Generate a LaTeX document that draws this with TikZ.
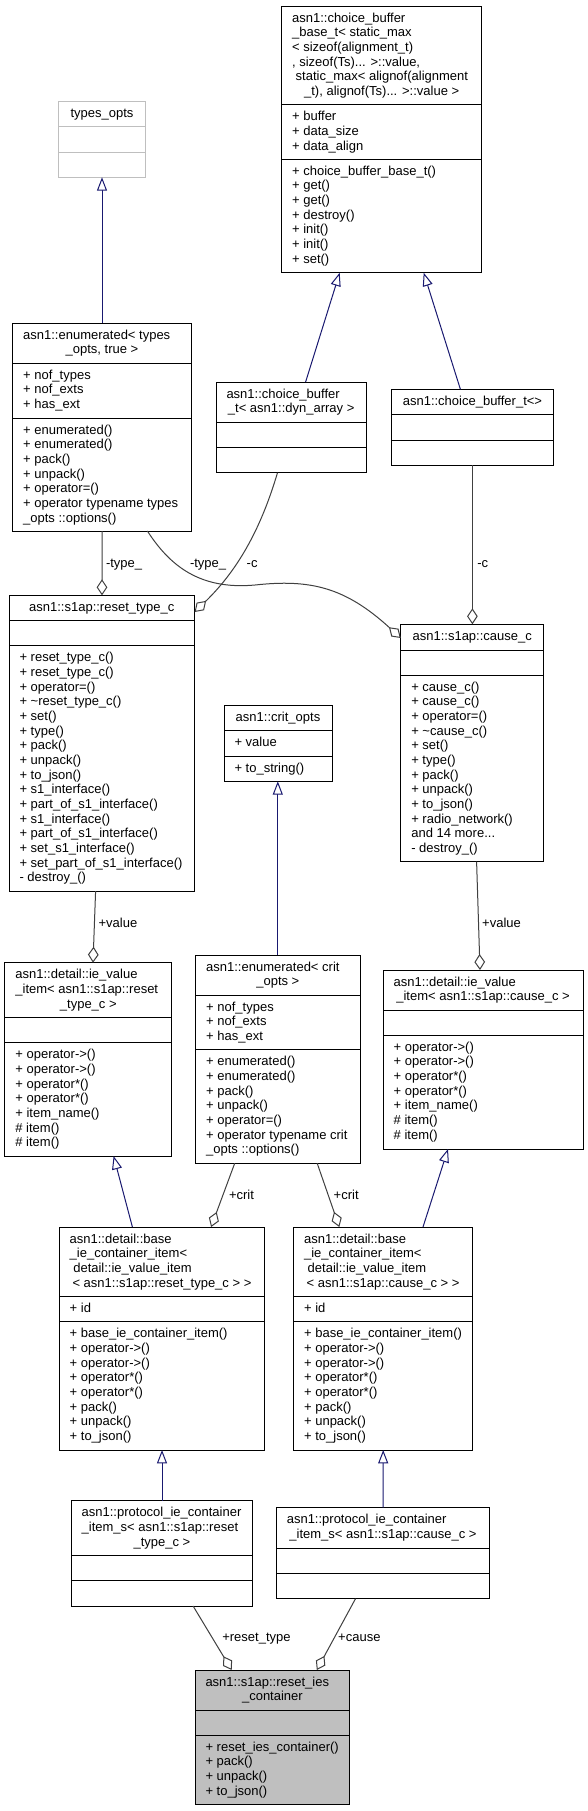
\documentclass[tikz,border=0pt]{standalone}
\usepackage{fontspec}
\setmainfont{Liberation Sans}
\usetikzlibrary{arrows.meta,calc,fit}
\definecolor{inhcol}{HTML}{191970}
\definecolor{compcol}{HTML}{404040}
\definecolor{grayfill}{HTML}{BFBFBF}
\definecolor{grayborder}{HTML}{BFBFBF}
\newcommand\fstr{\rule{0pt}{9pt}}
\newcommand\umlbox[8][]{%
  \node[cls,#1,fit={(#3,#4) (#5,#6)}] (#2) {};
  \draw[sep,#1] (#3,#7) -- (#5,#7);
  \draw[sep,#1] (#3,#8) -- (#5,#8);
}
\tikzset{
  every node/.style={font=\fontsize{9.75pt}{11pt}\selectfont, inner sep=0pt, outer sep=0pt},
  cls/.style={draw=black, line width=0.75pt, fill=white, inner sep=0pt},
  sep/.style={draw=black, line width=0.75pt},
  blk/.style={anchor=north west, align=left},
  ctr/.style={anchor=base},
  lbl/.style={anchor=base west},
  inh/.style={draw=inhcol, line width=0.75pt, -{Triangle[open, length=10pt, width=7.5pt, fill=white]}},
  comp/.style={draw=compcol, line width=0.75pt, -{Diamond[open, length=12pt, width=8pt, fill=white]}},
}
\begin{document}
\begin{tikzpicture}[x=0.75pt, y=-0.75pt]
\useasboundingbox (0,0) rectangle (588,1811);
\fill[white] (0,0) rectangle (588,1811);

% ---------- A: types_opts
\umlbox[draw=grayborder]{A}{58.9}{101}{145.1}{177.3}{126.7}{152}
\node[ctr] (At) at (102,117) {types\_opts};

% ---------- B: choice_buffer_base_t
\umlbox{B}{281.6}{6}{481.8}{272.7}{104.7}{159}
\node[blk] (Bt) at (292.1,10) {\fstr asn1::choice\_buffer\\\_base\_t< static\_max\\< sizeof(alignment\_t)\\, sizeof(Ts)... >::value,\\\hspace*{2.7pt}static\_max< alignof(alignment};
\node[ctr] (Bt2) at (381.7,95.35) {\_t), alignof(Ts)... >::value >};
\node[blk] (Ba) at (292.1,108.7) {\fstr + buffer\\+ data\_size\\+ data\_align};
\node[blk] (Bm) at (292.1,163) {\fstr + choice\_buffer\_base\_t()\\+ get()\\+ get()\\+ destroy()\\+ init()\\+ init()\\+ set()};

% ---------- C: enumerated<types_opts,true>
\umlbox{C}{12.7}{323.3}{191.2}{531}{363.3}{418}
\node[blk] (Ct) at (23.2,327.3) {\fstr asn1::enumerated< types};
\node[ctr] (Ct2) at (101.95,353.97) {\_opts, true >};
\node[blk] (Ca) at (23.2,367.3) {\fstr + nof\_types\\+ nof\_exts\\+ has\_ext};
\node[blk] (Cm) at (23.2,422) {\fstr + enumerated()\\+ enumerated()\\+ pack()\\+ unpack()\\+ operator=()\\+ operator typename types\\\_opts ::options()};

% ---------- D: choice_buffer_t<dyn_array>
\umlbox{D}{216}{382}{366.3}{472.7}{422}{447.3}
\node[blk] (Dt) at (226.5,386) {\fstr asn1::choice\_buffer};
\node[ctr] (Dt2) at (291.15,412.67) {\_t< asn1::dyn\_array >};

% ---------- E: choice_buffer_t<>
\umlbox{E}{391.1}{389.3}{553.8}{465.3}{414.7}{440}
\node[ctr] (Et) at (472.45,405.3) {asn1::choice\_buffer\_t<>};

% ---------- F: reset_type_c
\umlbox{F}{9}{595.3}{194.6}{891}{620.3}{645.7}
\node[ctr] (Ft) at (101.8,611.3) {asn1::s1ap::reset\_type\_c};
\node[blk] (Fm) at (19.5,649.7) {\fstr + reset\_type\_c()\\+ reset\_type\_c()\\+ operator=()\\+ \textasciitilde reset\_type\_c()\\+ set()\\+ type()\\+ pack()\\+ unpack()\\+ to\_json()\\+ s1\_interface()\\+ part\_of\_s1\_interface()\\+ s1\_interface()\\+ part\_of\_s1\_interface()\\+ set\_s1\_interface()\\+ set\_part\_of\_s1\_interface()\\- destroy\_()};

% ---------- G: cause_c
\umlbox{G}{400.8}{624.3}{543.7}{861.7}{650}{675.3}
\node[ctr] (Gt) at (472.25,640.3) {asn1::s1ap::cause\_c};
\node[blk] (Gm) at (411.3,679.3) {\fstr + cause\_c()\\+ cause\_c()\\+ operator=()\\+ \textasciitilde cause\_c()\\+ set()\\+ type()\\+ pack()\\+ unpack()\\+ to\_json()\\+ radio\_network()\\and 14 more...\\- destroy\_()};

% ---------- H: crit_opts
\umlbox{H}{224}{705}{332}{781.3}{730.7}{756}
\node[ctr] (Ht) at (278,721) {asn1::crit\_opts};
\node[blk] (Ha) at (234.5,734.7) {\fstr + value};
\node[blk] (Hm) at (234.5,760) {\fstr + to\_string()};

% ---------- I: ie_value_item<reset_type_c>
\umlbox{I}{4.9}{962.7}{171.7}{1156}{1017.3}{1042.7}
\node[blk] (It) at (15.4,966.7) {\fstr asn1::detail::ie\_value\\\_item< asn1::s1ap::reset};
\node[ctr] (It2) at (88.3,1008) {\_type\_c >};
\node[blk] (Im) at (15.4,1046.7) {\fstr + operator->()\\+ operator->()\\+ operator*()\\+ operator*()\\+ item\_name()\\\# item()\\\# item()};

% ---------- J: enumerated<crit_opts>
\umlbox{J}{195.7}{955}{360}{1163.3}{995}{1049.7}
\node[blk] (Jt) at (206.2,959) {\fstr asn1::enumerated< crit};
\node[ctr] (Jt2) at (277.85,985.67) {\_opts >};
\node[blk] (Ja) at (206.2,999) {\fstr + nof\_types\\+ nof\_exts\\+ has\_ext};
\node[blk] (Jm) at (206.2,1053.7) {\fstr + enumerated()\\+ enumerated()\\+ pack()\\+ unpack()\\+ operator=()\\+ operator typename crit\\\_opts ::options()};

% ---------- K: ie_value_item<cause_c>
\umlbox{K}{383.2}{970}{583}{1149}{1010}{1035.3}
\node[blk] (Kt) at (393.7,974) {\fstr asn1::detail::ie\_value};
\node[ctr] (Kt2) at (483.1,1000.67) {\_item< asn1::s1ap::cause\_c >};
\node[blk] (Km) at (393.7,1039.3) {\fstr + operator->()\\+ operator->()\\+ operator*()\\+ operator*()\\+ item\_name()\\\# item()\\\# item()};

% ---------- L: base_ie_container_item<reset>
\umlbox{L}{59.2}{1227}{264.7}{1450}{1296.7}{1321.7}
\node[blk] (Lt) at (69.7,1231) {\fstr asn1::detail::base\\\_ie\_container\_item<\\\hspace*{2.7pt}detail::ie\_value\_item};
\node[ctr] (Lt2) at (161.95,1287) {< asn1::s1ap::reset\_type\_c > >};
\node[blk] (La) at (69.7,1300.7) {\fstr + id};
\node[blk] (Lm) at (69.7,1325.7) {\fstr + base\_ie\_container\_item()\\+ operator->()\\+ operator->()\\+ operator*()\\+ operator*()\\+ pack()\\+ unpack()\\+ to\_json()};

% ---------- M: base_ie_container_item<cause>
\umlbox{M}{293.6}{1227}{472.5}{1450}{1296.7}{1321.7}
\node[blk] (Mt) at (304.1,1231) {\fstr asn1::detail::base\\\_ie\_container\_item<\\\hspace*{2.7pt}detail::ie\_value\_item};
\node[ctr] (Mt2) at (383.05,1287) {< asn1::s1ap::cause\_c > >};
\node[blk] (Ma) at (304.1,1300.7) {\fstr + id};
\node[blk] (Mm) at (304.1,1325.7) {\fstr + base\_ie\_container\_item()\\+ operator->()\\+ operator->()\\+ operator*()\\+ operator*()\\+ pack()\\+ unpack()\\+ to\_json()};

% ---------- N: protocol_ie_container_item_s<reset>
\umlbox{N}{71.2}{1500.7}{252.7}{1606}{1555.3}{1580.3}
\node[blk] (Nt) at (81.7,1504.7) {\fstr asn1::protocol\_ie\_container\\\_item\_s< asn1::s1ap::reset};
\node[ctr] (Nt2) at (161.95,1546) {\_type\_c >};

% ---------- O: protocol_ie_container_item_s<cause>
\umlbox{O}{276.3}{1507.7}{489.7}{1598.7}{1548}{1573}
\node[blk] (Ot) at (286.8,1511.7) {\fstr asn1::protocol\_ie\_container};
\node[ctr] (Ot2) at (383,1538.37) {\_item\_s< asn1::s1ap::cause\_c >};

% ---------- P: reset_ies_container
\umlbox[fill=grayfill]{P}{195}{1670}{349.8}{1804.3}{1710}{1735.3}
\node[blk] (Pt) at (205.5,1674) {\fstr asn1::s1ap::reset\_ies};
\node[ctr] (Pt2) at (272.4,1700.67) {\_container};
\node[blk] (Pm) at (205.5,1739.3) {\fstr + reset\_ies\_container()\\+ pack()\\+ unpack()\\+ to\_json()};

% ---------- connectors
\draw[inh] ($(C.north west)+(89.3,0)$) -- ($(A.south west)+(43.1,0)$);
\draw[inh] ($(D.north west)+(89.6,0)$) -- ($(B.south west)+(58.1,0)$);
\draw[inh] ($(E.north west)+(69.3,0)$) -- ($(B.south west)+(142.1,0)$);
\draw[comp] ($(C.south west)+(89.3,0)$) -- ($(F.north west)+(93,0)$);
\draw[comp] ($(D.south west)+(61.5,0)$) .. controls (262,525) and (240,568) .. ($(F.north east)+(0,16.7)$);
\draw[comp] ($(C.south west)+(134.7,0)$) .. controls (170,566) and (200,590) .. (255,585) .. controls (310,579) and (345,587) .. ($(G.north west)+(0,13.7)$);
\draw[comp] ($(E.south west)+(81.3,0)$) -- ($(G.north west)+(71.6,0)$);
\draw[comp] ($(F.south west)+(86.6,0)$) -- ($(I.north west)+(88.1,0)$);
\draw[inh] ($(J.north west)+(82.1,0)$) -- ($(H.south west)+(53.8,0)$);
\draw[comp] ($(G.south west)+(75.8,0)$) -- ($(K.north west)+(96.8,0)$);
\draw[inh] ($(L.north west)+(73.2,0)$) -- ($(I.south west)+(108.7,0)$);
\draw[comp] ($(J.south west)+(39,0)$) -- ($(L.north west)+(151.9,0)$);
\draw[comp] ($(J.south west)+(121.5,0)$) -- ($(M.north west)+(45.7,0)$);
\draw[inh] ($(M.north west)+(129.4,0)$) -- ($(K.south west)+(64.8,0)$);
\draw[inh] ($(N.north west)+(90.8,0)$) -- ($(L.south west)+(102.8,0)$);
\draw[inh] ($(O.north west)+(106.9,0)$) -- ($(M.south west)+(89.6,0)$);
\draw[comp] ($(N.south west)+(121.9,0)$) -- ($(P.north west)+(36.7,0)$);
\draw[comp] ($(O.south west)+(79.2,0)$) -- ($(P.north west)+(121.8,0)$);

% ---------- connector labels
\node[lbl] (l1) at (106,567) {-type\_};
\node[lbl] (l2) at (246.7,567) {-c};
\node[lbl] (l3) at (190,567) {-type\_};
\node[lbl] (l4) at (477.3,567) {-c};
\node[lbl] (l5) at (98.6,927) {+value};
\node[lbl] (l6) at (482.2,927) {+value};
\node[lbl] (l7) at (229,1199) {+crit};
\node[lbl] (l8) at (333.7,1199) {+crit};
\node[lbl] (l9) at (222.3,1641) {+reset\_type};
\node[lbl] (l10) at (338.2,1641) {+cause};
\end{tikzpicture}
\end{document}
